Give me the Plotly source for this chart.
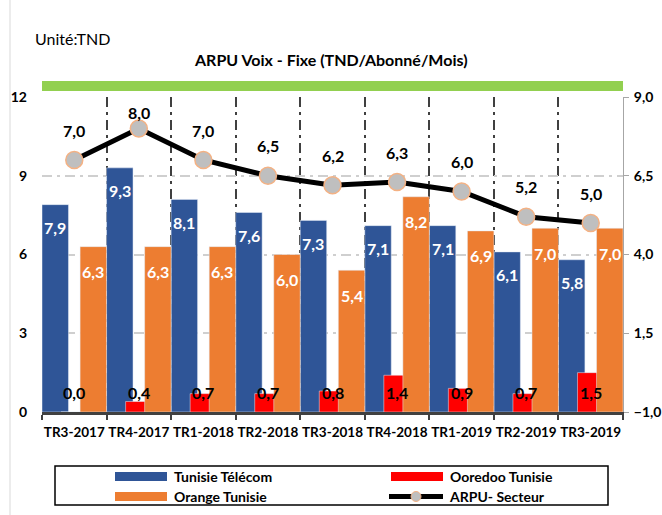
import plotly.graph_objects as go

categories = ["TR3-2017", "TR4-2017", "TR1-2018", "TR2-2018", "TR3-2018",
              "TR4-2018", "TR1-2019", "TR2-2019", "TR3-2019"]
tunisie_telecom = [7.9, 9.3, 8.1, 7.6, 7.3, 7.1, 7.1, 6.1, 5.8]
ooredoo = [0.0, 0.4, 0.7, 0.7, 0.8, 1.4, 0.9, 0.7, 1.5]
orange = [6.3, 6.3, 6.3, 6.0, 5.4, 8.2, 6.9, 7.0, 7.0]
arpu_secteur = [7.0, 8.0, 7.0, 6.5, 6.2, 6.3, 6.0, 5.2, 5.0]
left_ticks = [0, 3, 6, 9, 12]
right_ticks = [-1.0, 1.5, 4.0, 6.5, 9.0]
series_names = ["Tunisie Télécom", "Ooredoo Tunisie", "Orange Tunisie", "ARPU- Secteur"]

FONT = "Lato"
BLUE = "#2f5597"
RED = "#ff0000"
ORANGE = "#ed7d31"
GREEN = "#92d050"
MARKER_FILL = "#bfbfbf"
MARKER_EDGE = "#f4b183"

idx = list(range(len(categories)))
W = 0.41
OFF_BLUE, OFF_RED, OFF_ORANGE = -0.5, -0.205, 0.09

FW, FH = 662, 515
L, R, T, B = 42, 39, 97, 103
PW, PH = FW - L - R, FH - T - B


def px_x(x):
    return (x - L) / PW


def px_y(y):
    return 1 + (T - y) / PH


def fmt(v):
    return f"{v:.1f}".replace(".", ",")


fig = go.Figure()
fig.add_trace(go.Bar(x=idx, y=tunisie_telecom, name=series_names[0],
                     marker_color=BLUE, width=W, offset=OFF_BLUE))
fig.add_trace(go.Bar(x=idx, y=ooredoo, name=series_names[1],
                     marker_color=RED, width=W, offset=OFF_RED))
fig.add_trace(go.Bar(x=idx, y=orange, name=series_names[2],
                     marker_color=ORANGE, width=W, offset=OFF_ORANGE))
fig.add_trace(go.Scatter(x=idx, y=arpu_secteur, name=series_names[3], yaxis="y2",
                         mode="lines+markers",
                         line=dict(color="black", width=5),
                         marker=dict(size=17, color=MARKER_FILL,
                                     line=dict(color=MARKER_EDGE, width=1.5))))

annotations = []
for i in idx:
    annotations.append(dict(x=i + OFF_BLUE + W / 2, y=tunisie_telecom[i], xref="x", yref="y",
                            text=fmt(tunisie_telecom[i]), showarrow=False, yshift=-23,
                            font=dict(family=FONT, size=16, color="white", weight="bold")))
    annotations.append(dict(x=i + OFF_ORANGE + W / 2, y=orange[i], xref="x", yref="y",
                            text=fmt(orange[i]), showarrow=False, yshift=-25,
                            font=dict(family=FONT, size=16, color="white", weight="bold")))
    annotations.append(dict(x=i + OFF_RED + W / 2, y=0, xref="x", yref="y",
                            text=fmt(ooredoo[i]), showarrow=False, yshift=20,
                            font=dict(family=FONT, size=16, color="black", weight="bold")))
    shift = 16 if arpu_secteur[i] >= 7.5 else 30
    annotations.append(dict(x=i, y=arpu_secteur[i], xref="x", yref="y2",
                            text=fmt(arpu_secteur[i]), showarrow=False, yshift=shift,
                            font=dict(family=FONT, size=16, color="black", weight="bold")))

annotations.append(dict(x=px_x(33), y=px_y(38), xref="paper", yref="paper", text="Unité:TND",
                        showarrow=False, xanchor="left", yanchor="middle",
                        font=dict(family=FONT, size=16, color="black")))
annotations.append(dict(x=px_x(331), y=px_y(60), xref="paper", yref="paper",
                        text="ARPU Voix - Fixe (TND/Abonné/Mois)",
                        showarrow=False, xanchor="center", yanchor="middle",
                        font=dict(family=FONT, size=16, color="black", weight="bold")))

shapes = [
    dict(type="rect", xref="paper", yref="paper",
         x0=0, x1=1, y0=px_y(91), y1=px_y(81),
         fillcolor=GREEN, line=dict(width=0), layer="above"),
    dict(type="line", xref="paper", yref="paper",
         x0=px_x(10), x1=px_x(10), y0=px_y(0), y1=px_y(515),
         line=dict(color="#d9d9d9", width=1)),
    # legend frame
    dict(type="rect", xref="paper", yref="paper",
         x0=px_x(55), x1=px_x(608), y0=px_y(505), y1=px_y(466),
         line=dict(color="black", width=1.5), fillcolor="rgba(0,0,0,0)"),
]

# manual legend (2 columns x 2 rows)
legend_items = [
    (series_names[0], BLUE, 115, 476.5, "bar"),
    (series_names[2], ORANGE, 115, 496.5, "bar"),
    (series_names[1], RED, 391, 476.5, "bar"),
    (series_names[3], "black", 389, 496.5, "line"),
]
legend_font = dict(family=FONT, size=14, color="black", weight="bold")
for name, color, x0, yc, kind in legend_items:
    if kind == "bar":
        shapes.append(dict(type="rect", xref="paper", yref="paper",
                           x0=px_x(x0), x1=px_x(x0 + 52), y0=px_y(yc + 4.5), y1=px_y(yc - 4.5),
                           fillcolor=color, line=dict(width=0)))
        tx = x0 + 57
    else:
        shapes.append(dict(type="line", xref="paper", yref="paper",
                           x0=px_x(x0), x1=px_x(x0 + 54), y0=px_y(yc), y1=px_y(yc),
                           line=dict(color=color, width=5)))
        shapes.append(dict(type="circle", xref="paper", yref="paper",
                           x0=px_x(x0 + 22), x1=px_x(x0 + 32), y0=px_y(yc + 5), y1=px_y(yc - 5),
                           fillcolor=MARKER_FILL, line=dict(color=MARKER_EDGE, width=1)))
        tx = x0 + 58
    annotations.append(dict(x=px_x(tx), y=px_y(yc), xref="paper", yref="paper", text=name,
                            showarrow=False, xanchor="left", yanchor="middle",
                            font=legend_font))

fig.update_layout(
    width=FW, height=FH,
    margin=dict(l=L, r=R, t=T, b=B, autoexpand=False),
    plot_bgcolor="white", paper_bgcolor="white",
    separators=", ",
    barmode="overlay",
    showlegend=False,
    font=dict(family=FONT, size=14, color="black"),
    xaxis=dict(range=[-0.5, 8.5], tickvals=idx, ticktext=categories, tickangle=0,
               tickfont=dict(family=FONT, size=13.5, color="black", weight="bold"),
               showgrid=False, ticks="", showline=True, linecolor="#404040", linewidth=3,
               zeroline=False, ticklabelstandoff=6,
               minor=dict(tickvals=[i - 0.5 for i in range(len(categories) + 1)],
                          showgrid=True, gridcolor="#404040", gridwidth=2,
                          griddash="10px,5px,3px,5px", ticks="outside", ticklen=5,
                          tickcolor="#404040", tickwidth=2)),
    yaxis=dict(range=[0, 12], tickvals=left_ticks, showgrid=True, gridcolor="#cfcfcf",
               gridwidth=2, griddash="10px,5px,3px,5px", zeroline=False,
               showline=False, ticks="", ticklabelstandoff=14,
               tickfont=dict(family=FONT, size=14, color="black", weight="bold")),
    yaxis2=dict(range=[-1, 9], tickvals=right_ticks, overlaying="y", side="right",
                showgrid=False, zeroline=False, showline=True, linecolor="#a6a6a6",
                linewidth=1, ticks="outside", ticklen=5, tickcolor="#a6a6a6",
                tickformat=".1f", ticklabelstandoff=2,
                tickfont=dict(family=FONT, size=14, color="black", weight="bold")),
    annotations=annotations,
    shapes=shapes,
)

fig.write_html("out.html", config={"displayModeBar": False},
               post_script="document.body.style.margin='0';document.body.style.overflow='hidden';")
